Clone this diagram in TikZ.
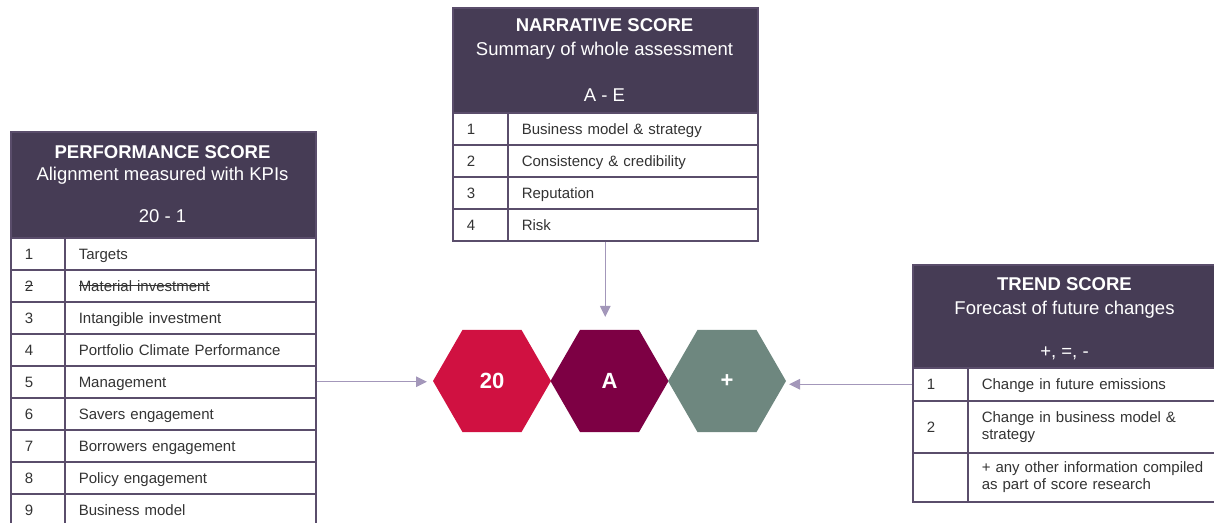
\documentclass[tikz,border=0pt]{standalone}
\usepackage{fontspec}
\setmainfont{Liberation Sans}
\usetikzlibrary{shapes.geometric,arrows.meta}
\definecolor{headc}{HTML}{463C55}
\definecolor{gridc}{HTML}{5A4D6B}
\definecolor{arrc}{HTML}{A397BA}
\definecolor{txtc}{HTML}{333333}
\definecolor{hexred}{HTML}{D01141}
\definecolor{hexplum}{HTML}{7D0044}
\definecolor{hexgreen}{HTML}{6E877F}
\newcommand\mystrike[1]{\setbox0\hbox{#1}\rlap{\rule[0.36em]{\wd0}{0.9pt}}\box0}
\begin{document}
\begin{tikzpicture}[x=1pt,y=-1pt,
  headbox/.style={fill=headc,draw=gridc,line width=1.5pt,anchor=north west,inner sep=0pt,minimum width=305pt},
  htitle/.style={anchor=base,text=white,font=\fontsize{18.5}{22}\selectfont\bfseries},
  hsub/.style={anchor=base,text=white,font=\fontsize{18.5}{22}\selectfont},
  cell/.style={draw=gridc,line width=1.5pt,anchor=north west,inner xsep=14pt,inner ysep=0pt,
    minimum height=32pt,text=txtc,font=\fontsize{15}{17}\selectfont,text height=10.7pt,text depth=0pt,align=left},
  mlcell/.style={draw=gridc,line width=1.5pt,anchor=north west,inner xsep=14pt,inner ysep=0pt,
    text=txtc,font=\fontsize{15}{17}\selectfont,align=left},
  hexs/.style={regular polygon,regular polygon sides=6,minimum size=118pt,inner sep=0pt,outer sep=0pt,
    draw=none,text=white,font=\fontsize{22}{26}\selectfont\bfseries},
  arr/.style={draw=arrc,line width=1.3pt,-{Triangle[width=10.5pt,length=11pt]}}
]
\useasboundingbox (0,0) rectangle (1214,522);
\clip (0,0) rectangle (1214,522);

% ---------- Performance score ----------
\node[headbox,minimum height=106pt] (perfhead) at (10,131) {};
\node[htitle] (perft) at (162.5,158) {PERFORMANCE SCORE};
\node[hsub] (perfs) at (162.5,180) {Alignment measured with KPIs};
\node[hsub] (perfr) at (162.5,222) {20 - 1};
\foreach \i/\n/\t in {1/1/Targets,
  2/{\mystrike{2}}/{\mystrike{Material investment}},
  3/3/Intangible investment,
  4/4/Portfolio Climate Performance,
  5/5/Management,
  6/6/Savers engagement,
  7/7/Borrowers engagement,
  8/8/Policy engagement,
  9/9/Business model}{
  \node[cell,text width=26pt] (pn\i) at (10,{237+32*(\i-1)}) {\n};
  \node[cell,text width=223pt] (pt\i) at (64,{237+32*(\i-1)}) {\t};
}

% ---------- Narrative score ----------
\node[headbox,minimum height=105pt] (narrhead) at (452,7) {};
\node[htitle] (narrt) at (604.5,31.7) {NARRATIVE SCORE};
\node[hsub] (narrs) at (604.5,55) {Summary of whole assessment};
\node[hsub] (narrr) at (604.5,101.7) {A - E};
\foreach \i/\t in {1/Business model \& strategy,
  2/Consistency \& credibility,
  3/Reputation,
  4/Risk}{
  \node[cell,text width=27pt] (nn\i) at (452,{112+32*(\i-1)}) {\i};
  \node[cell,text width=222pt] (nt\i) at (507,{112+32*(\i-1)}) {\t};
}

% ---------- Trend score ----------
\node[headbox,minimum height=103pt] (trendhead) at (912,264) {};
\node[htitle] (trendt) at (1064.5,290) {TREND SCORE};
\node[hsub] (trends) at (1064.5,314) {Forecast of future changes};
\node[hsub] (trendr) at (1064.5,357) {+, =, -};
\node[cell,text width=27pt,minimum height=33pt] (tn1) at (912,367) {1};
\node[cell,text width=222pt,minimum height=33pt] (tt1) at (967,367) {Change in future emissions};
\node[mlcell,text width=27pt,minimum height=52pt,text height=10.7pt,text depth=0pt] (tn2) at (912,400) {2\\[17pt]};
\node[mlcell,text width=222pt,minimum height=52pt] (tt2) at (967,400) {Change in business model \&\\strategy};
\node[mlcell,text width=27pt,minimum height=49pt] (tn3) at (912,452) {};
\node[mlcell,text width=222pt,minimum height=49pt] (tt3) at (967,452) {+ any other information compiled\\as part of score research};

% ---------- Hexagons ----------
\node[hexs,fill=hexred] (hex20) at (492,381) {20};
\node[hexs,fill=hexplum] (hexA) at (609.5,381) {A};
\node[hexs,fill=hexgreen] (hexP) at (727,381) {+};

% ---------- Connectors ----------
\draw[arr,shorten >=6pt] (pt5.east) -- (pt5.east -| hex20.west);
\draw[arr,shorten >=13pt] (narrhead.south |- nt4.south) -- (narrhead.south |- hexA.north);
\draw[arr,shorten >=3pt] (tn1.west) -- (tn1.west -| hexP.east);
\end{tikzpicture}
\end{document}
